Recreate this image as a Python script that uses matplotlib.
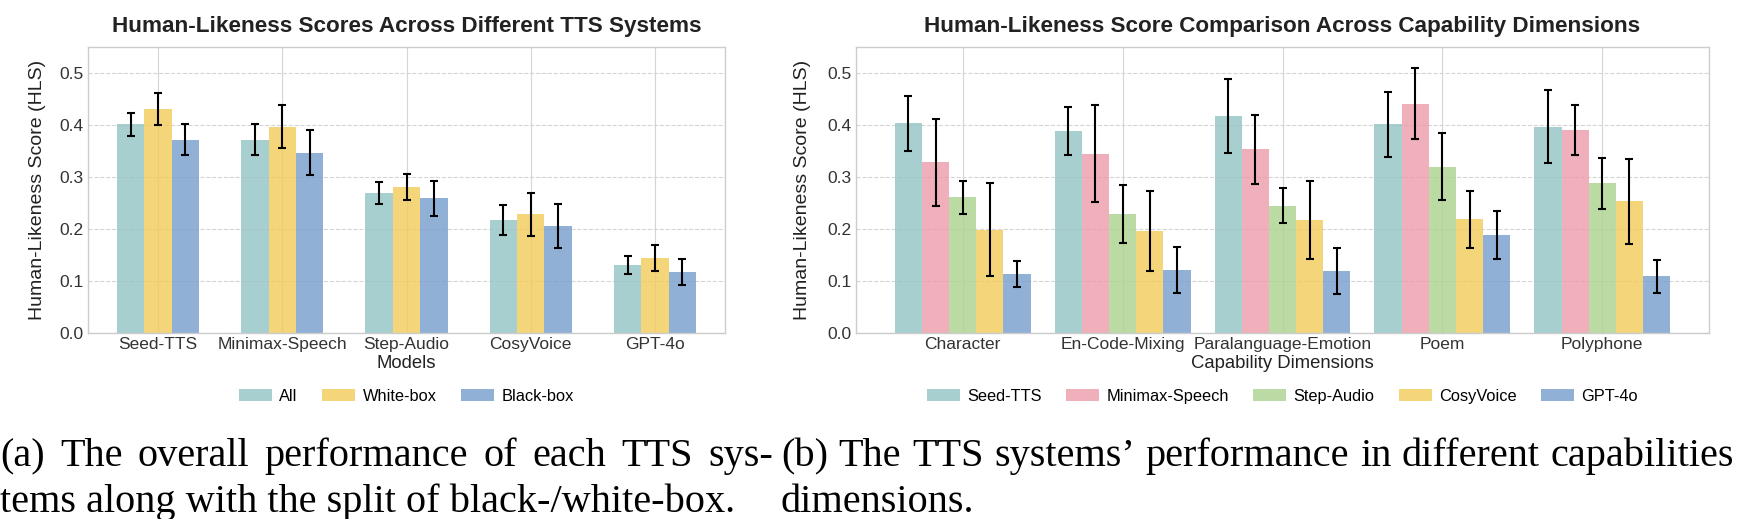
import matplotlib
matplotlib.use("Agg")
import matplotlib.pyplot as plt
import numpy as np

plt.rcParams['font.family'] = ['Liberation Sans', 'DejaVu Sans']

# ---- data: overall scores (a) ----
models = ["Seed-TTS", "Minimax-Speech", "Step-Audio", "CosyVoice", "GPT-4o"]
split_labels = ["All", "White-box", "Black-box"]
all_mean = [0.401, 0.372, 0.269, 0.217, 0.131]
all_err = [0.023, 0.030, 0.021, 0.029, 0.017]
white_mean = [0.431, 0.397, 0.281, 0.228, 0.144]
white_err = [0.031, 0.041, 0.025, 0.042, 0.025]
black_mean = [0.372, 0.347, 0.259, 0.206, 0.118]
black_err = [0.030, 0.043, 0.034, 0.042, 0.025]

# ---- data: capability dimensions (b) ----
dims = ["Character", "En-Code-Mixing", "Paralanguage-Emotion", "Poem", "Polyphone"]
seed_mean = [0.403, 0.388, 0.418, 0.401, 0.397]
seed_err = [0.053, 0.046, 0.071, 0.063, 0.070]
minimax_mean = [0.328, 0.345, 0.353, 0.441, 0.391]
minimax_err = [0.083, 0.093, 0.066, 0.068, 0.048]
step_mean = [0.261, 0.229, 0.245, 0.320, 0.288]
step_err = [0.032, 0.056, 0.034, 0.065, 0.049]
cosy_mean = [0.199, 0.196, 0.217, 0.219, 0.253]
cosy_err = [0.090, 0.077, 0.075, 0.055, 0.081]
gpt_mean = [0.113, 0.121, 0.119, 0.188, 0.109]
gpt_err = [0.025, 0.045, 0.044, 0.046, 0.032]

TEAL = "#93c3c4"
PINK = "#ec9baa"
GREEN = "#abd38d"
YELLOW = "#f2cb59"
BLUE = "#769dcb"

W, H = 1737, 519
fig = plt.figure(figsize=(W / 100, H / 100), dpi=100)


def px_axes(x0, y0, x1, y1):
    return fig.add_axes([x0 / W, 1 - y1 / H, (x1 - x0) / W, (y1 - y0) / H])


def style(ax, title, xlabel, labels, ylabelpad):
    ax.set_ylim(0, 0.55)
    ax.set_yticks([0.0, 0.1, 0.2, 0.3, 0.4, 0.5])
    ax.set_yticklabels([f"{v:.1f}" for v in [0.0, 0.1, 0.2, 0.3, 0.4, 0.5]])
    ax.set_xticks(np.arange(len(labels)))
    ax.set_xticklabels(labels)
    ax.tick_params(axis='both', labelsize=12.5, colors="#333333", length=0, pad=3)
    ax.set_axisbelow(True)
    ax.grid(axis='y', linestyle='--', color='#d5d5d5', linewidth=0.8)
    ax.grid(axis='x', linestyle='-', color='#d5d5d5', linewidth=0.8)
    for s in ax.spines.values():
        s.set_color('#cccccc')
        s.set_linewidth(1.0)
    ax.set_title(title, fontsize=16.2, fontweight='bold', color='#222222', pad=11)
    ax.set_xlabel(xlabel, fontsize=13.3, color='#222222', labelpad=2)
    ax.set_ylabel("Human-Likeness Score (HLS)", fontsize=14, color='#222222',
                  labelpad=ylabelpad)


ekw = dict(ecolor='black', capsize=3, elinewidth=1.5, capthick=1.5)
leg_kw = dict(loc='center', bbox_to_anchor=(0.5, -0.222), frameon=False, fontsize=11.8,
              handlelength=2.0, handleheight=0.75, columnspacing=1.5, handletextpad=0.45)

# ---- (a) ----
ax1 = px_axes(88, 47, 725, 333)
x = np.arange(len(models))
bw = 0.22
series_a = [(all_mean, all_err, TEAL), (white_mean, white_err, YELLOW), (black_mean, black_err, BLUE)]
for i, (m, e, c) in enumerate(series_a):
    ax1.bar(x + (i - 1) * bw, m, bw, yerr=e, color=c, alpha=0.8,
            label=split_labels[i], error_kw=ekw)
style(ax1, "Human-Likeness Scores Across Different TTS Systems", "Models", models, 10)
ax1.legend(ncol=3, **leg_kw)

# ---- (b) ----
ax2 = px_axes(856, 47, 1709, 333)
x = np.arange(len(dims))
bw = 0.17
series_b = [("Seed-TTS", seed_mean, seed_err, TEAL),
            ("Minimax-Speech", minimax_mean, minimax_err, PINK),
            ("Step-Audio", step_mean, step_err, GREEN),
            ("CosyVoice", cosy_mean, cosy_err, YELLOW),
            ("GPT-4o", gpt_mean, gpt_err, BLUE)]
for i, (name, m, e, c) in enumerate(series_b):
    ax2.bar(x + (i - 2) * bw, m, bw, yerr=e, color=c, alpha=0.8, label=name, error_kw=ekw)
style(ax2, "Human-Likeness Score Comparison Across Capability Dimensions",
      "Capability Dimensions", dims, 12)
ax2.legend(ncol=5, **leg_kw)

# ---- captions (LaTeX-like, first lines justified) ----
cap = dict(fontsize=29, family=['Liberation Serif', 'DejaVu Serif'], color='black',
           ha='left', va='baseline')
renderer = fig.canvas.get_renderer()


def justified(x0, x1, y, s):
    words = s.split(' ')
    texts = [fig.text(0, 1 - y / H, w, **cap) for w in words]
    widths = [t.get_window_extent(renderer).width for t in texts]
    gap = (x1 - x0 - sum(widths)) / (len(words) - 1)
    pos = x0
    for t, w in zip(texts, widths):
        t.set_x(pos / W)
        pos += w + gap


justified(0, 773, 466, "(a) The overall performance of each TTS sys-")
fig.text(0, 1 - 512 / H, "tems along with the split of black-/white-box.", **cap)
justified(781, 1734, 466, "(b) The TTS systems\u2019 performance in different capabilities")
fig.text(781 / W, 1 - 512 / H, "dimensions.", **cap)

fig.savefig("out.png", dpi=100, facecolor='white')
